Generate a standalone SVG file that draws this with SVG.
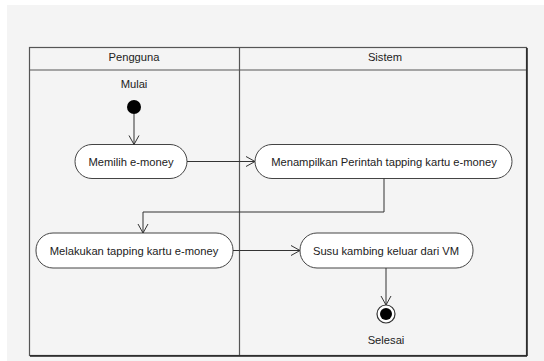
<svg xmlns="http://www.w3.org/2000/svg" width="544" height="361" viewBox="0 0 544 361">
<defs>
<marker id="arr" markerWidth="12" markerHeight="12" refX="10" refY="6" orient="auto" markerUnits="userSpaceOnUse">
<path d="M1,1 L10,6 L1,11" fill="none" stroke="#333" stroke-width="1"/>
</marker>
<style>
.lane{fill:none;stroke:#555;stroke-width:1.2}
.node{fill:#fff;stroke:#444;stroke-width:1}
.t{font-family:"Liberation Sans",Arial,sans-serif;font-size:11.2px;fill:#222;text-anchor:middle;dominant-baseline:central}
.c{fill:none;stroke:#333;stroke-width:1;marker-end:url(#arr)}
</style>
</defs>
<rect x="0" y="0" width="544" height="361" fill="#fff"/>
<rect x="7" y="5" width="537" height="356" fill="#f4f4f4"/>
<g id="swimlanes">
<rect class="lane" x="29.5" y="47.5" width="497" height="308"/>
<line class="lane" x1="29.5" y1="70" x2="526.5" y2="70"/>
<line class="lane" x1="239.5" y1="47.5" x2="239.5" y2="355.5"/>
<line x1="527" y1="48" x2="527" y2="356" stroke="#222" stroke-width="1.5"/>
<line x1="30" y1="356" x2="527" y2="356" stroke="#222" stroke-width="1.5"/>
<text class="t" x="134" y="57">Pengguna</text>
<text class="t" x="385" y="57">Sistem</text>
</g>
<g id="start">
<text class="t" x="134" y="84">Mulai</text>
<circle cx="134" cy="107" r="7" fill="#000"/>
</g>
<g id="memilih">
<rect class="node" x="75" y="144.5" width="112" height="34" rx="17"/>
<text class="t" x="131" y="161.5">Memilih e-money</text>
</g>
<g id="menampilkan">
<rect class="node" x="255" y="144.5" width="257" height="34" rx="17"/>
<text class="t" x="384" y="161.5">Menampilkan Perintah tapping kartu e-money</text>
</g>
<g id="melakukan">
<rect class="node" x="36" y="233" width="197" height="35" rx="17"/>
<text class="t" x="134" y="250.5">Melakukan tapping kartu e-money</text>
</g>
<g id="susu">
<rect class="node" x="300" y="233" width="173" height="35" rx="17"/>
<text class="t" x="386" y="250.5">Susu kambing keluar dari VM</text>
</g>
<g id="end">
<circle cx="386" cy="314" r="9" fill="#fff" stroke="#333" stroke-width="1.2"/>
<circle cx="386" cy="314" r="6" fill="#000"/>
<text class="t" x="386" y="340">Selesai</text>
</g>
<g id="connectors">
<path class="c" d="M134,114 V144.5"/>
<path class="c" d="M187,161.5 H255"/>
<path class="c" d="M384,178.5 V212 H143 V233"/>
<path class="c" d="M233,250.5 H300"/>
<path class="c" d="M386,268 V305"/>
</g>
</svg>
